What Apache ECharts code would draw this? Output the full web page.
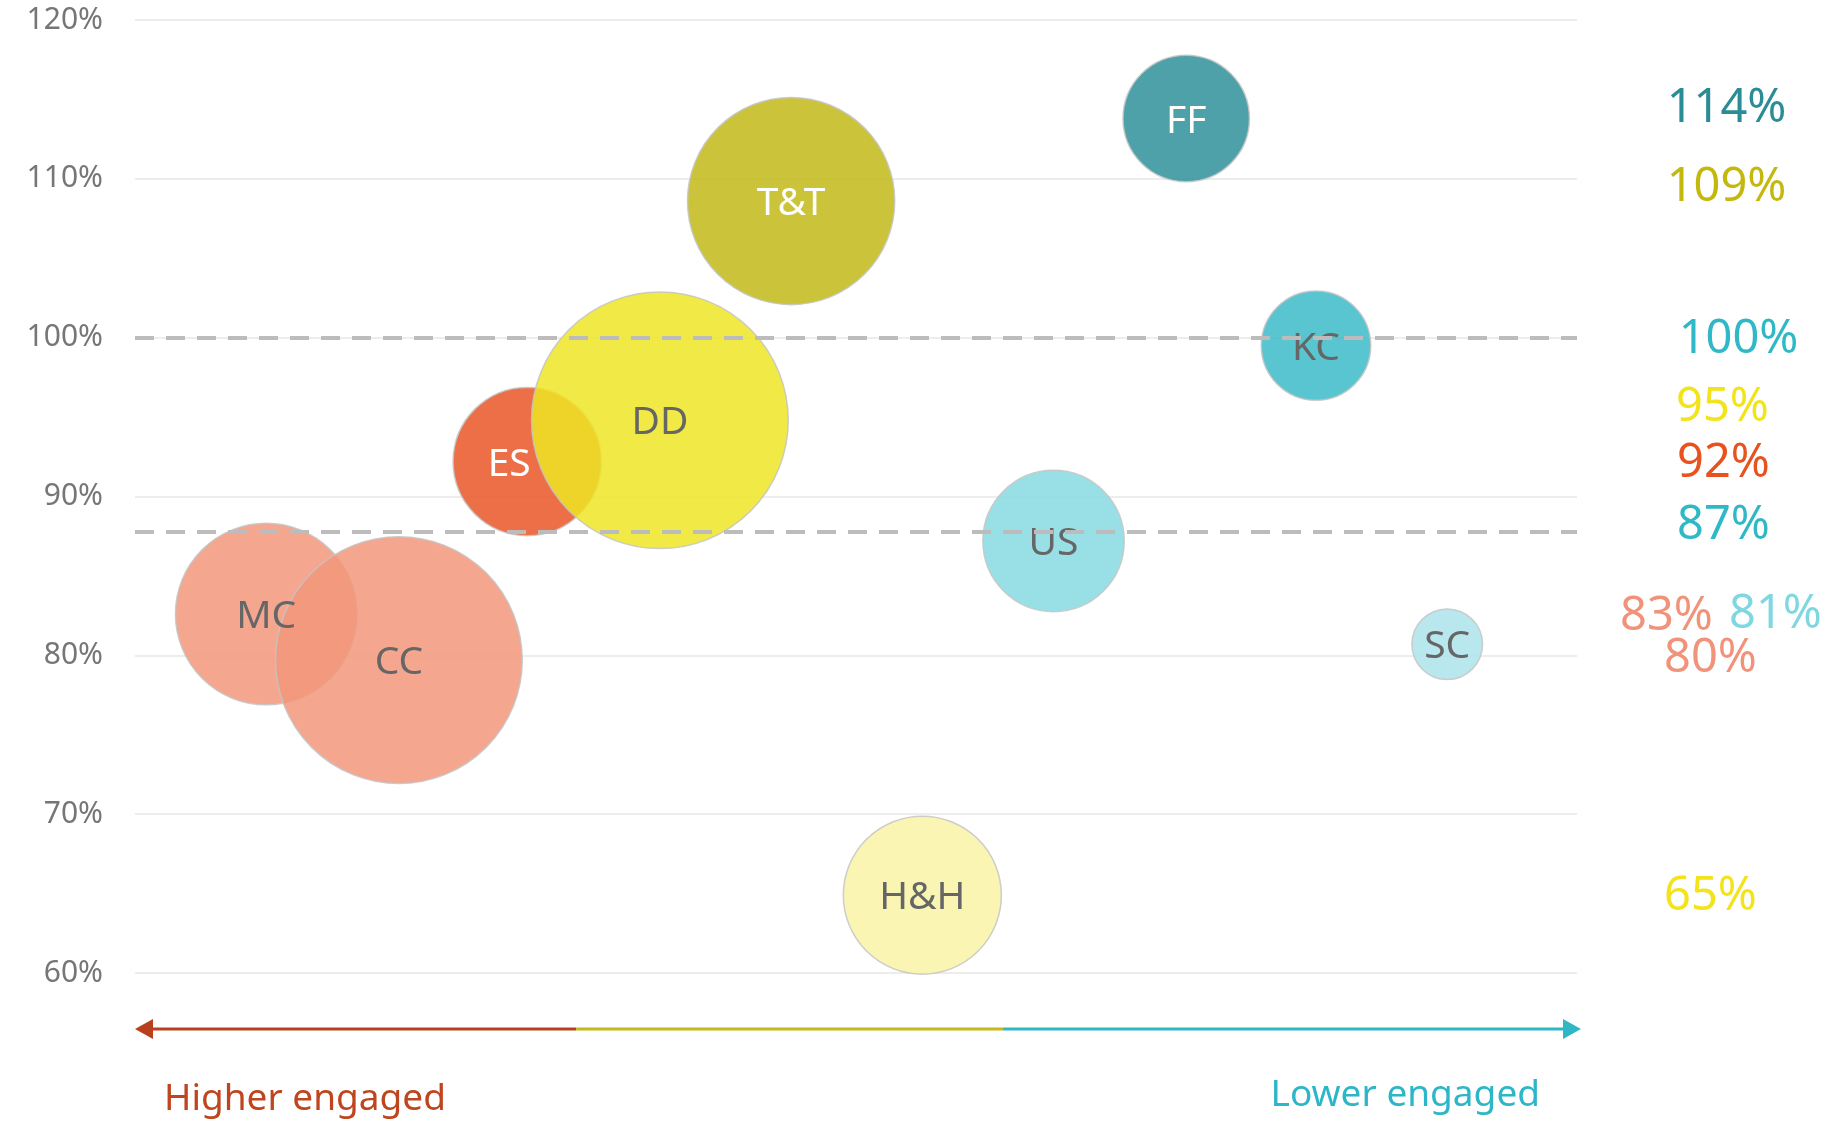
<!DOCTYPE html>
<html>
<head>
<meta charset="utf-8">
<title>Engagement bubbles</title>
<script src="https://cdn.jsdelivr.net/npm/echarts@6/dist/echarts.min.js"></script>
<style>
  html, body { margin: 0; padding: 0; background: #fff; }
  #chart { width: 1843px; height: 1124px; }
</style>
</head>
<body>
<div id="chart"></div>
<script>
// bubble data
var names = ['FF', 'T&T', 'KC', 'H&H', 'US', 'SC', 'ES', 'DD', 'MC', 'CC'];
var xVals = [72.9, 45.5, 81.9, 54.6, 63.7, 91.0, 27.2, 36.4, 9.1, 18.3];
var yVals = [113.8, 108.6, 99.5, 64.9, 87.2, 80.7, 92.2, 94.8, 82.6, 79.7];
var sizes = [16, 43, 12, 25, 20, 5, 22, 66, 33, 61];
var fills = ['#2f909a', '#c2ba18', '#3bbbc8', '#f9f3a6', '#86dbe2', '#abe4eb', '#e95628', '#efe524', '#f2977b', '#f2977b'];
var pctColors = ['#2a8d96', '#c4b80c', '#2fb8c6', '#f2e31a', '#2fb8c6', '#7fd8e0', '#e8521e', '#f2e31a', '#f0937a', '#f0937a'];
var refLines = [100, 87.8];
var yMin = 60, yMax = 120, yStep = 10;

var whiteText = { 'FF': 1, 'T&T': 1, 'ES': 1 };
// nudges for the value column on the right, so the labels don't collide
var pctNudge = {
  'FF': [5, -10], 'T&T': [5, -13], 'KC': [17, -6], 'DD': [1, -13], 'ES': [2, 2],
  'US': [2, -15], 'MC': [-55, 3], 'SC': [54, -30], 'CC': [-11, -1], 'H&H': [-11, 1]
};

var gridLeft = 135, gridTop = 20, gridWidth = 1442, gridHeight = 953;
var font = '"Noto Sans", "Open Sans", sans-serif';

var bubbles = [];
var pcts = [];
for (var i = 0; i < names.length; i++) {
  bubbles.push({
    name: names[i],
    value: [xVals[i], yVals[i], sizes[i]],
    itemStyle: { color: fills[i] },
    label: { color: whiteText[names[i]] ? '#ffffff' : '#666666', offset: names[i] === 'ES' ? [-18, 3] : [0, 3] }
  });
  pcts.push({
    name: names[i],
    value: [0.5, yVals[i]],
    label: { color: pctColors[i], offset: pctNudge[names[i]] || [0, 0] }
  });
}

var chart = echarts.init(document.getElementById('chart'));

var ax = gridLeft, ay = 1029, aEnd = gridLeft + gridWidth + 4;
var seg1 = gridLeft + gridWidth * 0.306, seg2 = gridLeft + gridWidth * 0.602;

var option = {
  backgroundColor: '#ffffff',
  animation: false,
  grid: [
    { left: gridLeft, top: gridTop, width: gridWidth, height: gridHeight },
    { left: 1600, top: gridTop, width: 243, height: gridHeight }
  ],
  xAxis: [
    { type: 'value', gridIndex: 0, min: 0, max: 100, show: false },
    { type: 'value', gridIndex: 1, min: 0, max: 1, show: false }
  ],
  yAxis: [
    {
      type: 'value', gridIndex: 0, min: yMin, max: yMax, interval: yStep,
      axisLine: { show: false }, axisTick: { show: false },
      axisLabel: { formatter: '{value}%', color: '#767676', fontSize: 30, fontFamily: font, margin: 32 },
      splitLine: { lineStyle: { color: '#ededed', width: 2 } }
    },
    { type: 'value', gridIndex: 1, min: yMin, max: yMax, show: false }
  ],
  series: [
    {
      type: 'scatter',
      xAxisIndex: 0, yAxisIndex: 0,
      data: bubbles,
      symbolSize: function (v) { return Math.sqrt(v[2]) * 31.6; },
      itemStyle: { opacity: 0.85, borderColor: '#c4c4c4', borderWidth: 1.5 },
      label: {
        show: true, position: 'inside', fontSize: 39, fontFamily: font, opacity: 1,
        formatter: function (p) { return p.name; }
      },
      z: 2
    },
    {
      // dashed reference lines
      type: 'scatter',
      xAxisIndex: 0, yAxisIndex: 0,
      data: [],
      z: 5,
      markLine: {
        silent: true, symbol: 'none', label: { show: false },
        lineStyle: { color: '#bcbcbc', width: 4, type: [19, 12] },
        data: refLines.map(function (v) { return { yAxis: v }; })
      }
    },
    {
      type: 'scatter',
      xAxisIndex: 1, yAxisIndex: 1,
      data: pcts,
      symbolSize: 0,
      clip: false,
      itemStyle: { opacity: 1 },
      label: {
        show: true, position: 'inside', fontSize: 47, opacity: 1,
        fontFamily: font,
        formatter: function (p) { return Math.round(p.value[1]) + '%'; }
      }
    }
  ],
  graphic: [
    { type: 'line', shape: { x1: ax + 10, y1: ay, x2: seg1, y2: ay }, style: { stroke: '#b8401c', lineWidth: 3 } },
    { type: 'line', shape: { x1: seg1, y1: ay, x2: seg2, y2: ay }, style: { stroke: '#c4b81a', lineWidth: 3 } },
    { type: 'line', shape: { x1: seg2, y1: ay, x2: aEnd - 10, y2: ay }, style: { stroke: '#2fb7c6', lineWidth: 3 } },
    { type: 'polygon', shape: { points: [[ax, ay], [ax + 18, ay - 10], [ax + 18, ay + 10]] }, style: { fill: '#b8401c' } },
    { type: 'polygon', shape: { points: [[aEnd, ay], [aEnd - 18, ay - 10], [aEnd - 18, ay + 10]] }, style: { fill: '#2fb7c6' } },
    { type: 'text', left: 164, top: 1081, style: { text: 'Higher engaged', fill: '#bf451e', fontSize: 37, fontFamily: font } },
    { type: 'text', right: 303, top: 1077, style: { text: 'Lower engaged', fill: '#2cb6c7', fontSize: 37, fontFamily: font } }
  ]
};

chart.setOption(option);
</script>
</body>
</html>
